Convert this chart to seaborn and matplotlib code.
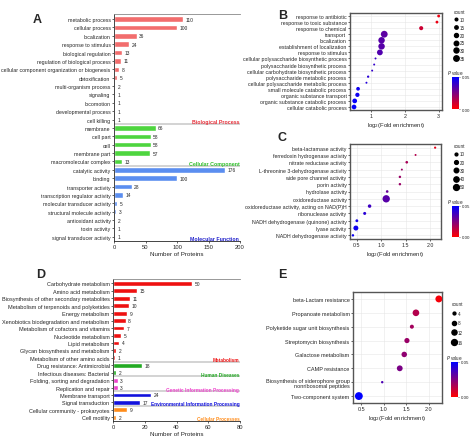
import numpy as np
import pandas as pd
import seaborn as sns
import matplotlib.pyplot as plt
import matplotlib as mpl
from matplotlib.lines import Line2D
from matplotlib.colors import LinearSegmentedColormap, Normalize

sns.set_style("ticks")
plt.rcParams['font.family'] = ['Liberation Sans', 'DejaVu Sans']
plt.rcParams['font.size'] = 4

W, H = 474, 439

# ---- panel A: GO categories ----
bp_terms = ['metabolic process', 'cellular process', 'localization', 'response to stimulus',
            'biological regulation', 'regulation of biological process',
            'cellular component organization or biogenesis', 'detoxification',
            'multi-organism process', 'signaling', 'locomotion', 'developmental process', 'cell killing']
bp_counts = [110, 100, 36, 24, 13, 11, 8, 5, 2, 1, 1, 1, 1]
cc_terms = ['membrane', 'cell part', 'cell', 'membrane part', 'macromolecular complex']
cc_counts = [66, 58, 58, 57, 13]
mf_terms = ['catalytic activity', 'binding', 'transporter activity', 'transcription regulator activity',
            'molecular transducer activity', 'structural molecule activity', 'antioxidant activity',
            'toxin activity', 'signal transducer activity']
mf_counts = [176, 100, 28, 14, 5, 3, 2, 1, 1]

# ---- panel D: KEGG categories ----
met_terms = ['Carbohydrate metabolism', 'Amino acid metabolism', 'Biosynthesis of other secondary metabolites',
             'Metabolism of terpenoids and polyketides', 'Energy metabolism',
             'Xenobiotics biodegradation and metabolism', 'Metabolism of cofactors and vitamins',
             'Nucleotide metabolism', 'Lipid metabolism', 'Glycan biosynthesis and metabolism',
             'Metabolism of other amino acids']
met_counts = [50, 15, 11, 10, 9, 8, 7, 5, 4, 2, 1]
hd_terms = ['Drug resistance: Antimicrobial', 'Infectious diseases: Bacterial']
hd_counts = [18, 2]
gip_terms = ['Folding, sorting and degradation', 'Replication and repair']
gip_counts = [3, 3]
eip_terms = ['Membrane transport', 'Signal transduction']
eip_counts = [24, 17]
cp_terms = ['Cellular community - prokaryotes', 'Cell motility']
cp_counts = [9, 2]

# ---- panel B ----
b_terms = ['response to antibiotic', 'response to toxic substance', 'response to chemical', 'transport',
           'localization', 'establishment of localization', 'response to stimulus',
           'cellular polysaccharide biosynthetic process', 'polysaccharide biosynthetic process',
           'cellular carbohydrate biosynthetic process', 'polysaccharide metabolic process',
           'cellular polysaccharide metabolic process', 'small molecule catabolic process',
           'organic substance transport', 'organic substance catabolic process', 'cellular catabolic process']
b_fe = [3.0, 2.95, 2.48, 1.38, 1.3, 1.3, 1.25, 1.12, 1.08, 1.02, 0.9, 0.85, 0.6, 0.58, 0.5, 0.48]
b_count = [8, 8, 14, 35, 32, 32, 26, 5, 5, 5, 6, 5, 12, 15, 18, 18]
b_p = [0.003, 0.004, 0.01, 0.032, 0.033, 0.033, 0.034, 0.038, 0.04, 0.04, 0.042, 0.043, 0.047, 0.047, 0.049, 0.049]

# ---- panel C ----
c_terms = ['beta-lactamase activity', 'ferredoxin hydrogenase activity', 'nitrate reductase activity',
           'L-threonine 3-dehydrogenase activity', 'wide pore channel activity', 'porin activity',
           'hydrolase activity', 'oxidoreductase activity', 'oxidoreductase activity, acting on NAD(P)H',
           'ribonuclease activity', 'NADH dehydrogenase (quinone) activity', 'lyase activity',
           'NADH dehydrogenase activity']
c_fe = [2.1, 1.7, 1.52, 1.42, 1.38, 1.38, 1.12, 1.1, 0.76, 0.66, 0.5, 0.48, 0.42]
c_count = [3, 2, 5, 2, 4, 4, 5, 50, 10, 7, 6, 22, 4]
c_p = [0.005, 0.015, 0.017, 0.02, 0.02, 0.02, 0.03, 0.033, 0.038, 0.042, 0.046, 0.047, 0.048]

# ---- panel E ----
e_terms = ['beta-Lactam resistance', 'Propanoate metabolism', 'Polyketide sugar unit biosynthesis',
           'Streptomycin biosynthesis', 'Galactose metabolism', 'CAMP resistance',
           'Biosynthesis of siderophore group\nnonribosomal peptides', 'Two-component system']
e_fe = [2.23, 1.72, 1.63, 1.52, 1.46, 1.36, 0.97, 0.45]
e_count = [14, 13, 5, 8, 9, 10, 2, 18]
e_p = [0.002, 0.015, 0.018, 0.02, 0.022, 0.026, 0.035, 0.05]

cmap = LinearSegmentedColormap.from_list('pv', ['#ff0000', '#0000ff'])
pnorm = Normalize(0, 0.05)

fig = plt.figure(figsize=(W / 100, H / 100), dpi=100)


def px_axes(x0, y0, x1, y1):
    return fig.add_axes([x0 / W, 1 - y1 / H, (x1 - x0) / W, (y1 - y0) / H])


def bar_panel(ax, groups, xmax, xstep, label_size=3.8, grp_size=3.8):
    rows = []
    for name, terms, counts, col, tcol in groups:
        for t, c in zip(terms, counts):
            rows.append((t, c, name))
    df = pd.DataFrame(rows, columns=['term', 'count', 'group'])
    pal = {g[0]: g[3] for g in groups}
    sns.barplot(data=df, y='term', x='count', hue='group', palette=pal, dodge=False,
                orient='h', width=0.65, legend=False, ax=ax, saturation=1)
    for i, c in enumerate(df['count']):
        ax.text(c + xmax * 0.02, i, str(c), va='center', fontsize=3.5)
    pos = 0
    for name, terms, counts, col, tcol in groups:
        if pos > 0:
            ax.axhline(pos - 0.5, color='#cccccc', lw=1.2)
        pos += len(terms)
        ax.text(xmax * 0.995, pos - 0.8, name, color=tcol, ha='right', va='center',
                fontsize=grp_size, fontweight='bold')
    ax.set_xlim(0, xmax)
    ax.set_ylim(len(df) - 0.5, -0.6)
    ax.set_xticks(np.arange(0, xmax + 1, xstep))
    ax.set_ylabel('')
    ax.set_xlabel('Number of Proteins', fontsize=4.5, labelpad=1)
    ax.tick_params(axis='both', labelsize=label_size, length=1.5, width=0.5, pad=1)
    ax.tick_params(axis='x', labelsize=4.2)
    for s in ['left', 'bottom', 'top']:
        ax.spines[s].set_linewidth(0.6)
    ax.spines['right'].set_visible(False)
    ax.spines['top'].set_color('#888888')


axA = px_axes(114, 15, 240, 242)
bar_panel(axA, [
    ('Biological Process', bp_terms, bp_counts, '#f26d6d', '#e8323c'),
    ('Cellular Component', cc_terms, cc_counts, '#4ed53f', '#2fbf2a'),
    ('Molecular Function', mf_terms, mf_counts, '#5b8ef0', '#2222cc'),
], 200, 50, 3.8)

axD = px_axes(113, 280, 240, 422)
bar_panel(axD, [
    ('Metabolism', met_terms, met_counts, '#ee1111', '#ee1111'),
    ('Human Diseases', hd_terms, hd_counts, '#22aa22', '#22aa22'),
    ('Genetic Information Processing', gip_terms, gip_counts, '#ee44cc', '#ee44cc'),
    ('Environmental Information Processing', eip_terms, eip_counts, '#1111dd', '#1111dd'),
    ('Cellular Processes', cp_terms, cp_counts, '#ff8c1a', '#ff8c1a'),
], 80, 20, 4.0, 3.4)


def dot_panel(box, terms, fe, count, pv, xlim, xticks, size_norm, sizes, leg_counts, leg_pos, cb_pos,
              label_size=4.0, spacing=1.0):
    ax = px_axes(*box)
    df = pd.DataFrame({'term': terms, 'fe': fe, 'count': count, 'p': pv})
    df['y'] = np.arange(len(df))
    sns.scatterplot(data=df, x='fe', y='y', hue='p', palette=cmap, hue_norm=pnorm,
                    size='count', sizes=sizes, size_norm=size_norm, legend=False,
                    edgecolor='none', ax=ax, zorder=3)
    ax.set_ylim(len(df) - 0.5, -0.5)
    ax.set_yticks(df['y'])
    ax.set_yticklabels(terms)
    ax.set_xlim(*xlim)
    ax.set_xticks(xticks)
    ax.set_ylabel('')
    ax.set_xlabel('log$_2$(Fold enrichment)', fontsize=4.2, labelpad=1)
    ax.grid(True, color='#e6e6e6', lw=0.4)
    ax.tick_params(axis='both', labelsize=label_size, length=1.5, width=0.5, pad=1)
    for s in ax.spines.values():
        s.set_linewidth(1.0)
        s.set_color('#555555')
    # count legend
    smin, smax = sizes
    handles = []
    for c in leg_counts:
        s = smin + (smax - smin) * (c - size_norm[0]) / (size_norm[1] - size_norm[0])
        handles.append(Line2D([], [], marker='o', ls='', color='black',
                              markersize=0.8 * np.sqrt(max(s, 0.5)), label=str(c)))
    fig.legend(handles=handles, title='count', loc='upper left',
               bbox_to_anchor=(leg_pos[0] / W, 1 - leg_pos[1] / H), frameon=False,
               fontsize=3.3, title_fontsize=3.3, handletextpad=0.4, labelspacing=spacing,
               borderpad=0, handlelength=1)
    cax = px_axes(*cb_pos)
    cb = mpl.colorbar.ColorbarBase(cax, cmap=cmap, norm=pnorm, ticks=[0, 0.05])
    cb.ax.set_yticklabels(['0.00', '0.05'])
    cb.ax.tick_params(labelsize=3.2, length=1, width=0.4, pad=1)
    cb.outline.set_visible(False)
    cax.set_title('$P$ value', fontsize=3.3, pad=2)
    return ax


dot_panel((350, 14, 442, 111), b_terms, b_fe, b_count, b_p, (0.36, 3.1), [1, 2, 3],
          (5, 35), (2, 24), [10, 15, 20, 25, 30, 35], (451, 8), (452, 78, 459, 110), 3.8, 0.6)
dot_panel((350, 145, 441, 240), c_terms, c_fe, c_count, c_p, (0.36, 2.22), [0.5, 1.0, 1.5, 2.0],
          (2, 50), (2, 28), [10, 20, 30, 40, 50], (451, 142), (452, 207, 459, 238), 3.8, 0.7)
dot_panel((353, 293, 442, 404), e_terms, e_fe, e_count, e_p, (0.32, 2.3), [0.5, 1.0, 1.5, 2.0],
          (2, 18), (3, 32), [4, 8, 12, 16], (449, 300), (451, 363, 458, 398), 4.0, 1.0)

for lab, x, y in [('A', 33, 20), ('B', 278, 16), ('C', 278, 138), ('D', 36, 275), ('E', 278, 275)]:
    fig.text(x / W, 1 - y / H, lab, fontsize=9, fontweight='bold', ha='left', va='center')

fig.savefig('out.png', dpi=100)
